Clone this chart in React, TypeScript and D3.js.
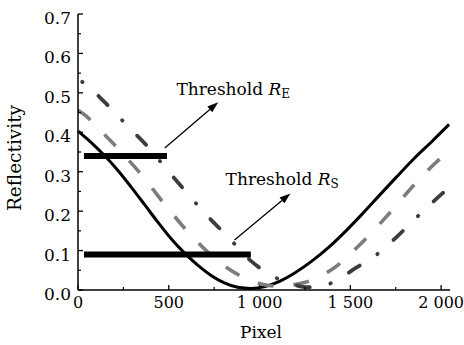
import React from "react";
import * as d3 from "d3";

// Reflectivity profiles along the pixel axis
const solidPixel = [0, 73, 146, 220, 293, 366, 440, 513, 586, 659, 733, 806, 879, 952, 1030, 1110, 1200, 1293, 1385, 1476, 1570, 1660, 1751, 1850, 1952, 2044];
const solidR = [0.403, 0.374, 0.341, 0.303, 0.261, 0.217, 0.172, 0.13, 0.094, 0.063, 0.037, 0.018, 0.007, 0.004, 0.009, 0.022, 0.045, 0.075, 0.11, 0.15, 0.195, 0.24, 0.285, 0.333, 0.378, 0.42];

const dashPixel = [0, 46, 95, 214, 357, 485, 626, 778, 934, 1020, 1095, 1170, 1247, 1385, 1568, 1714, 1842, 2007, 2044];
const dashR = [0.456, 0.441, 0.418, 0.362, 0.288, 0.213, 0.137, 0.071, 0.027, 0.014, 0.01, 0.012, 0.019, 0.048, 0.122, 0.194, 0.262, 0.338, 0.352];

const dotDashPixel = [0, 29, 180, 277, 401, 478, 610, 680, 825, 962, 1082, 1200, 1260, 1313, 1393, 1530, 1640, 1763, 1869, 2007, 2044];
const dotDashR = [0.535, 0.526, 0.461, 0.414, 0.355, 0.312, 0.241, 0.204, 0.135, 0.07, 0.033, 0.012, 0.007, 0.008, 0.017, 0.056, 0.088, 0.138, 0.186, 0.245, 0.26];

// Threshold levels and their pixel spans
const thresholdE = 0.34;
const thresholdS = 0.09;
const thresholdESpan = [33, 490];
const thresholdSSpan = [33, 952];

const xTicks = [0, 500, 1000, 1500, 2000];
const xTickLabels = ["0", "500", "1 000", "1 500", "2 000"];
const xMinorTicks = [250, 750, 1250, 1750];
const yTicks = [0, 0.1, 0.2, 0.3, 0.4, 0.5, 0.6, 0.7];
const yMinorTicks = [0.05, 0.15, 0.25, 0.35, 0.45, 0.55, 0.65];

const W = 464;
const H = 345;
const FONT = "'DejaVu Serif', serif";

const x = d3.scaleLinear().domain([0, 2050]).range([78, 450.2]);
const y = d3.scaleLinear().domain([0, 0.7]).range([290, 14]);

const line = d3
  .line<[number, number]>()
  .x((d) => x(d[0]))
  .y((d) => y(d[1]))
  .curve(d3.curveMonotoneX);

const zip = (a: number[], b: number[]): [number, number][] => a.map((v, i) => [v, b[i]]);

function Label({ tx, ty, anchor = "start", rotate = 0, size = 17, children }: any) {
  return (
    <text
      transform={`translate(${tx},${ty}) rotate(${rotate})`}
      textAnchor={anchor}
      fontFamily={FONT}
      fontSize={size}
      fill="#000"
    >
      {children}
    </text>
  );
}

function Annot({ px0, r0, px1, r1, tpx, tr, sub }: any) {
  const x0 = x(px0), y0 = y(r0), x1 = x(px1), y1 = y(r1);
  const ang = Math.atan2(y1 - y0, x1 - x0);
  const L = 11, Wd = 3.8;
  const bx = x1 - L * Math.cos(ang), by = y1 - L * Math.sin(ang);
  const head = [
    [x1, y1],
    [bx + Wd * Math.sin(ang), by - Wd * Math.cos(ang)],
    [bx - Wd * Math.sin(ang), by + Wd * Math.cos(ang)],
  ];
  return (
    <g>
      <line x1={x0} y1={y0} x2={bx} y2={by} stroke="#000" strokeWidth={1.3} />
      <polygon points={head.map((p) => p.join(",")).join(" ")} fill="#000" />
      <Label tx={x(tpx)} ty={y(tr)}>
        Threshold <tspan fontStyle="italic">R</tspan>
        <tspan fontSize={12} dy={3}>{sub}</tspan>
      </Label>
    </g>
  );
}

export default function App() {
  return (
    <svg width={W} height={H} style={{ position: "absolute", left: 0, top: 0, background: "#fff" }}>
      {/* curves */}
      <path d={line(zip(solidPixel, solidR)) || ""} fill="none" stroke="#000" strokeWidth={3} />
      <path
        d={line(zip(dashPixel, dashR)) || ""}
        fill="none"
        stroke="#7d7d7d"
        strokeWidth={3.6}
        strokeDasharray="16 20"
      />
      <path
        d={line(zip(dotDashPixel, dotDashR)) || ""}
        fill="none"
        stroke="#3d3d3d"
        strokeWidth={3.8}
        strokeLinecap="round"
        strokeDasharray="13 21 0.5 21"
        strokeDashoffset={29}
      />

      {/* threshold bars */}
      <line x1={x(thresholdESpan[0])} x2={x(thresholdESpan[1])} y1={y(thresholdE)} y2={y(thresholdE)} stroke="#000" strokeWidth={6} />
      <line x1={x(thresholdSSpan[0])} x2={x(thresholdSSpan[1])} y1={y(thresholdS)} y2={y(thresholdS)} stroke="#000" strokeWidth={6} />

      <Annot px0={478} r0={0.36} px1={772} r1={0.476} tpx={542} tr={0.4945} sub="E" />
      <Annot px0={862} r0={0.127} px1={1170} r1={0.245} tpx={813} tr={0.266} sub="S" />

      {/* axes */}
      <line x1={78} x2={78} y1={y(0.7)} y2={y(0)} stroke="#000" strokeWidth={1.5} />
      <line x1={78} x2={x(2050)} y1={y(0)} y2={y(0)} stroke="#000" strokeWidth={1.5} />
      {yTicks.map((t) => (
        <line key={"yt" + t} x1={78} x2={83} y1={y(t)} y2={y(t)} stroke="#000" strokeWidth={1.3} />
      ))}
      {yMinorTicks.map((t) => (
        <line key={"ym" + t} x1={78} x2={81} y1={y(t)} y2={y(t)} stroke="#000" strokeWidth={1.2} />
      ))}
      {xTicks.map((t) => (
        <line key={"xt" + t} x1={x(t)} x2={x(t)} y1={y(0)} y2={y(0) - 5} stroke="#000" strokeWidth={1.3} />
      ))}
      {xMinorTicks.map((t) => (
        <line key={"xm" + t} x1={x(t)} x2={x(t)} y1={y(0)} y2={y(0) - 3} stroke="#000" strokeWidth={1.2} />
      ))}
      {yTicks.map((t) => (
        <Label key={"yl" + t} tx={71} ty={y(t) + 10} anchor="end">
          {t.toFixed(1)}
        </Label>
      ))}
      {xTicks.map((t, i) => (
        <Label key={"xl" + t} tx={x(t)} ty={308} anchor="middle" size={16}>
          {xTickLabels[i]}
        </Label>
      ))}
      <Label tx={261} ty={338} anchor="middle">Pixel</Label>
      <Label tx={21} ty={158} anchor="middle" rotate={-90} size={18.5}>Reflectivity</Label>
    </svg>
  );
}
